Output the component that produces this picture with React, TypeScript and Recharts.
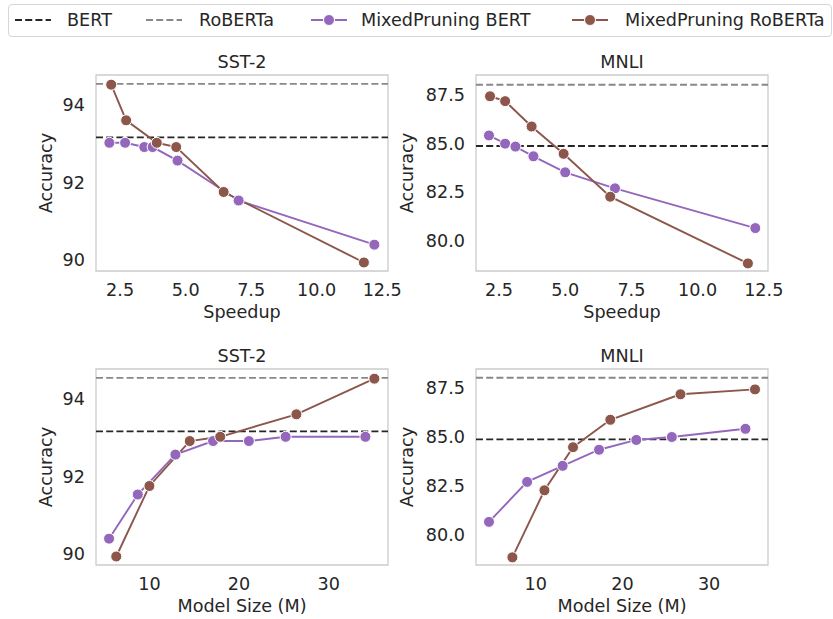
import React from 'react';
import { LineChart, Line, XAxis, YAxis, ReferenceLine, ReferenceArea } from 'recharts';

// accuracy per pruned model, ordered from smallest speedup (largest model) upward
const sstBertAcc = [93.03, 93.03, 92.92, 92.92, 92.57, 91.54, 90.4];
const sstBertSpeedup = [2.09, 2.69, 3.42, 3.74, 4.69, 7.02, 12.2];
const sstBertSize = [34.1, 25.2, 21.1, 17.1, 12.9, 8.7, 5.5];

const sstRobAcc = [94.53, 93.61, 93.03, 92.92, 91.76, 89.94];
const sstRobSpeedup = [2.16, 2.73, 3.9, 4.64, 6.45, 11.8];
const sstRobSize = [35.1, 26.4, 17.9, 14.5, 10.0, 6.3];

const mnliBertAcc = [85.4, 84.98, 84.83, 84.33, 83.51, 82.69, 80.65];
const mnliBertSpeedup = [2.12, 2.73, 3.12, 3.8, 5.0, 6.88, 12.18];
const mnliBertSize = [34.2, 25.7, 21.6, 17.3, 13.1, 9.0, 4.6];

const mnliRobAcc = [87.41, 87.16, 85.86, 84.46, 82.26, 78.84];
const mnliRobSpeedup = [2.16, 2.73, 3.73, 4.94, 6.7, 11.9];
const mnliRobSize = [35.3, 26.7, 18.6, 14.3, 11.0, 7.3];

// full-size baselines
const sstBaseline = { bert: 93.17, roberta: 94.55 };
const mnliBaseline = { bert: 84.86, roberta: 88.0 };

const speedupTicks = [2.5, 5.0, 7.5, 10.0, 12.5];
const sizeTicks = [10, 20, 30];
const sstTicks = [90, 92, 94];
const mnliTicks = [80.0, 82.5, 85.0, 87.5];

const FONT = '"DejaVu Sans", sans-serif';
const FS = 17.6;
const TEXT = '#262626';
const PURPLE = '#9467bd';
const BROWN = '#8c564b';
const BOX_W = 292;
const BOX_H = 196;

const zip = (xs: number[], ys: number[]) => xs.map((x, i) => ({ x, y: ys[i] }));

interface PanelProps {
  left: number;
  top: number;
  xDomain: [number, number];
  yDomain: [number, number];
  xTicks: number[];
  yTicks: number[];
  xFmt: (v: number) => string;
  yFmt: (v: number) => string;
  bert: { x: number; y: number }[];
  rob: { x: number; y: number }[];
  base: { bert: number; roberta: number };
}

function Panel(p: PanelProps) {
  const tick = { fill: TEXT, fontSize: FS, fontFamily: FONT };
  const dot = (c: string) => ({ r: 5.5, fill: c, stroke: '#ffffff', strokeWidth: 1 });
  return (
    <div style={{ position: 'absolute', left: p.left - 70, top: p.top - 10 }}>
      <LineChart width={BOX_W + 100} height={BOX_H + 50} margin={{ top: 10, right: 30, bottom: 0, left: 0 }}>
        <XAxis
          dataKey="x"
          type="number"
          domain={p.xDomain}
          ticks={p.xTicks}
          tickFormatter={p.xFmt}
          allowDataOverflow
          axisLine={false}
          tickLine={false}
          tickSize={0}
          tickMargin={13}
          height={40}
          tick={tick}
          interval={0}
        />
        <YAxis
          dataKey="y"
          type="number"
          domain={p.yDomain}
          ticks={p.yTicks}
          tickFormatter={p.yFmt}
          allowDataOverflow
          axisLine={false}
          tickLine={false}
          tickSize={0}
          tickMargin={11}
          width={70}
          tick={tick}
          interval={0}
        />
        <ReferenceArea
          x1={p.xDomain[0]}
          x2={p.xDomain[1]}
          y1={p.yDomain[0]}
          y2={p.yDomain[1]}
          fill="none"
          fillOpacity={0}
          stroke="#cccccc"
          strokeWidth={1.3}
          strokeOpacity={1}
        />
        <ReferenceLine y={p.base.bert} stroke="#262626" strokeWidth={1.9} strokeDasharray="7 3.2" />
        <ReferenceLine y={p.base.roberta} stroke="#888888" strokeWidth={1.9} strokeDasharray="7 3.2" />
        <Line data={p.bert} dataKey="y" stroke={PURPLE} strokeWidth={1.9} dot={dot(PURPLE)} isAnimationActive={false} />
        <Line data={p.rob} dataKey="y" stroke={BROWN} strokeWidth={1.9} dot={dot(BROWN)} isAnimationActive={false} />
      </LineChart>
    </div>
  );
}

function LegendIcon({ color, dashed }: { color: string; dashed: boolean }) {
  return (
    <svg width={36} height={14} style={{ display: 'block' }}>
      {dashed ? (
        <line x1={0} y1={7} x2={36} y2={7} stroke={color} strokeWidth={1.9} strokeDasharray="7 3.2" />
      ) : (
        <>
          <line x1={0} y1={7} x2={36} y2={7} stroke={color} strokeWidth={1.9} />
          <circle cx={18} cy={7} r={5.5} fill={color} stroke="#fff" strokeWidth={1} />
        </>
      )}
    </svg>
  );
}

const legendItems = [
  { label: 'BERT', color: '#262626', dashed: true, icon: 15, text: 67 },
  { label: 'RoBERTa', color: '#888888', dashed: true, icon: 146, text: 199 },
  { label: 'MixedPruning BERT', color: PURPLE, dashed: false, icon: 311, text: 361 },
  { label: 'MixedPruning RoBERTa', color: BROWN, dashed: false, icon: 572, text: 625 },
];

const fmt1 = (v: number) => v.toFixed(1);
const fmt0 = (v: number) => String(v);

export default function App() {
  const titles = [
    { x: 96, y: 75, t: 'SST-2', xl: 'Speedup', yl: 52 },
    { x: 476, y: 75, t: 'MNLI', xl: 'Speedup', yl: 413 },
    { x: 96, y: 369, t: 'SST-2', xl: 'Model Size (M)', yl: 52 },
    { x: 476, y: 369, t: 'MNLI', xl: 'Model Size (M)', yl: 413 },
  ];
  return (
    <div style={{ position: 'absolute', left: 0, top: 0, width: 833, height: 619, background: '#fff', fontFamily: FONT }}>
      <div
        style={{
          position: 'absolute',
          left: 8,
          top: 4,
          width: 824,
          height: 33,
          border: '1px solid #d6d6d6',
          borderRadius: 4,
          boxSizing: 'border-box',
        }}
      />
      {legendItems.map((it) => (
        <React.Fragment key={it.label}>
          <div style={{ position: 'absolute', left: it.icon, top: 13 }}>
            <LegendIcon color={it.color} dashed={it.dashed} />
          </div>
          <span
            style={{ position: 'absolute', left: it.text, top: 8, fontSize: FS, lineHeight: '24px', color: TEXT, whiteSpace: 'nowrap' }}
          >
            {it.label}
          </span>
        </React.Fragment>
      ))}

      <Panel left={96} top={75} xDomain={[1.58, 12.72]} yDomain={[89.72, 94.78]} xTicks={speedupTicks} yTicks={sstTicks}
        xFmt={fmt1} yFmt={fmt0} bert={zip(sstBertSpeedup, sstBertAcc)} rob={zip(sstRobSpeedup, sstRobAcc)} base={sstBaseline} />
      <Panel left={476} top={75} xDomain={[1.63, 12.66]} yDomain={[78.45, 88.5]} xTicks={speedupTicks} yTicks={mnliTicks}
        xFmt={fmt1} yFmt={fmt1} bert={zip(mnliBertSpeedup, mnliBertAcc)} rob={zip(mnliRobSpeedup, mnliRobAcc)} base={mnliBaseline} />
      <Panel left={96} top={369} xDomain={[4.04, 36.62]} yDomain={[89.72, 94.78]} xTicks={sizeTicks} yTicks={sstTicks}
        xFmt={fmt0} yFmt={fmt0} bert={zip(sstBertSize, sstBertAcc)} rob={zip(sstRobSize, sstRobAcc)} base={sstBaseline} />
      <Panel left={476} top={369} xDomain={[3.1, 36.8]} yDomain={[78.45, 88.45]} xTicks={sizeTicks} yTicks={mnliTicks}
        xFmt={fmt0} yFmt={fmt1} bert={zip(mnliBertSize, mnliBertAcc)} rob={zip(mnliRobSize, mnliRobAcc)} base={mnliBaseline} />

      <svg width={833} height={619} style={{ position: 'absolute', left: 0, top: 0, pointerEvents: 'none' }}>
        {titles.map((t, i) => (
          <g key={i} fill={TEXT} fontSize={FS} fontFamily={FONT}>
            <text x={t.x + BOX_W / 2} y={t.y - 7} textAnchor="middle">{t.t}</text>
            <text x={t.x + BOX_W / 2} y={t.y + BOX_H + 47} textAnchor="middle">{t.xl}</text>
            <text x={t.yl} y={t.y + BOX_H / 2} textAnchor="middle" transform={`rotate(-90, ${t.yl}, ${t.y + BOX_H / 2})`}>Accuracy</text>
          </g>
        ))}
      </svg>
    </div>
  );
}
